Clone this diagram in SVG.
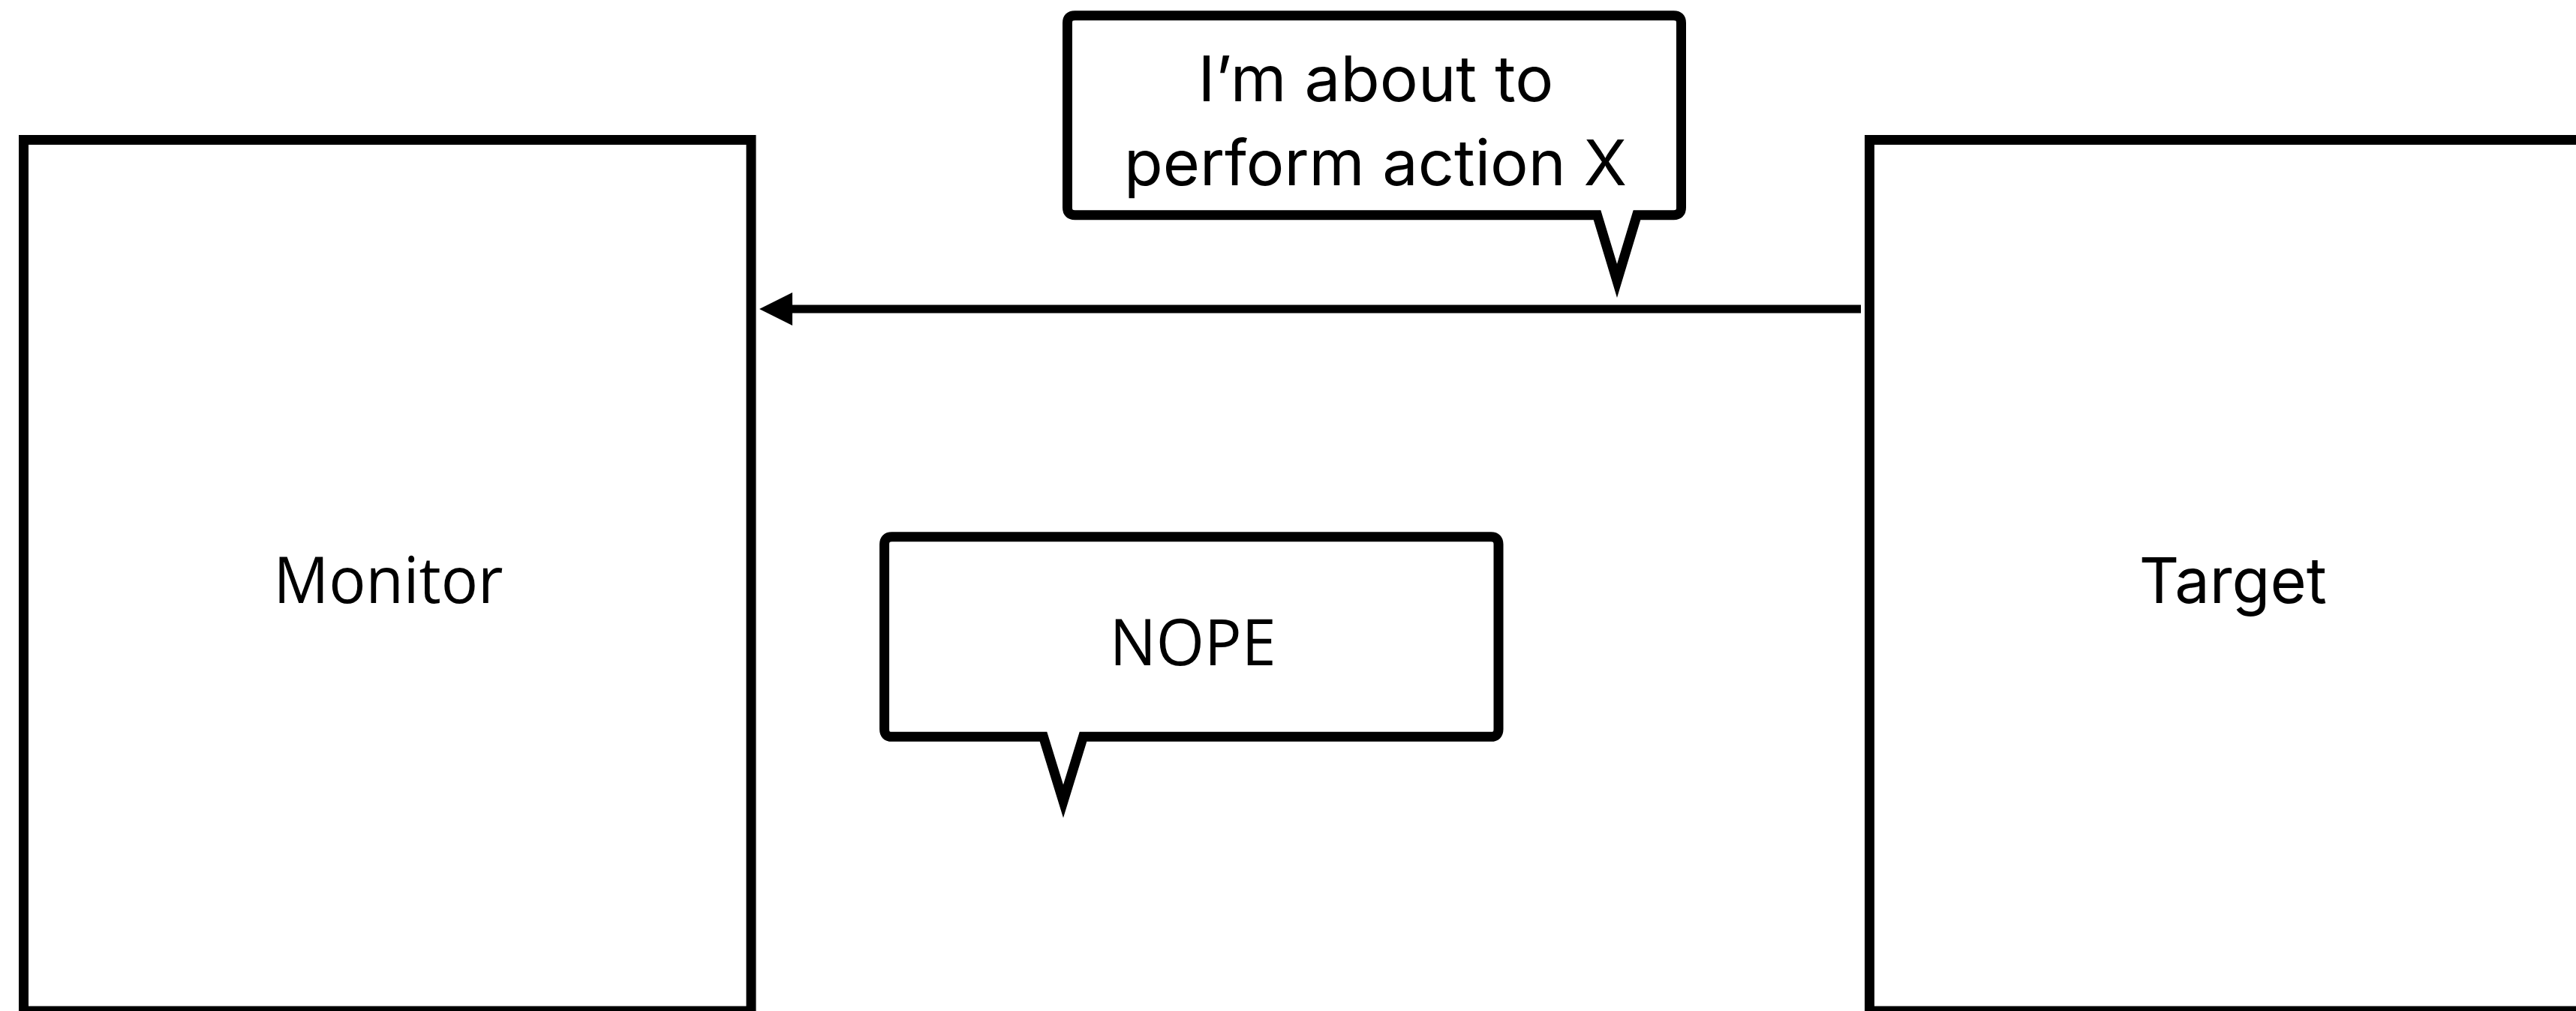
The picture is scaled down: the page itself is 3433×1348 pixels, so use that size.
<svg xmlns="http://www.w3.org/2000/svg" width="3433" height="1348" viewBox="0 0 3433 1348">
  <style>
    .box { fill: #ffffff; stroke: #000000; stroke-width: 13; }
    .bubble { fill: #ffffff; stroke: #000000; stroke-width: 13; stroke-linejoin: miter; stroke-miterlimit: 10; }
    .edge { stroke: #000000; stroke-width: 11; fill: none; }
    .lbl { fill: #000000; text-anchor: middle; }
    .sans { font-family: "Open Sans", "Noto Sans", sans-serif; font-size: 86px; }
    .grot { font-family: Inter, "Liberation Sans", sans-serif; font-size: 84px; }
  </style>
  <defs>
    <marker id="arrow" markerUnits="userSpaceOnUse" markerWidth="50" markerHeight="50" refX="0" refY="22" orient="auto-start-reverse" viewBox="0 0 44 44">
      <path d="M0 22 L44 0 L44 44 Z" fill="#000000"/>
    </marker>
  </defs>
  <rect x="0" y="0" width="3433" height="1348" fill="#ffffff"/>

  <g id="monitor">
    <rect class="box" x="31.5" y="186.5" width="969.5" height="1161.5"/>
    <text class="lbl sans" x="517.5" y="804" textLength="306" lengthAdjust="spacingAndGlyphs">Monitor</text>
  </g>

  <g id="target">
    <rect class="box" x="2491.5" y="186.5" width="1000" height="1161.5"/>
    <text class="lbl grot" x="2975.8" y="804" textLength="250" lengthAdjust="spacingAndGlyphs">Target</text>
  </g>

  <g id="connectors">
    <line class="edge" x1="2480" y1="412" x2="1056" y2="412"/>
    <path d="M1012 412 L1056 390 L1056 434 Z" fill="#000000"/>
  </g>

  <g id="bubble-action">
    <path class="bubble" d="M1432.5 20.7 H2230.5 Q2240.5 20.7 2240.5 30.7 V276.7 Q2240.5 286.7 2230.5 286.7 H2181.5 L2155 374.5 L2128.5 286.7 H1432.5 Q1422.5 286.7 1422.5 276.7 V30.7 Q1422.5 20.7 1432.5 20.7 Z"/>
    <text class="lbl grot" x="1833.5" y="135" textLength="474" lengthAdjust="spacingAndGlyphs">I’m about to</text>
    <text class="lbl grot" x="1833" y="246.7" textLength="670" lengthAdjust="spacingAndGlyphs">perform action X</text>
  </g>

  <g id="bubble-nope">
    <path class="bubble" d="M1188.6 715.8 H1987 Q1997 715.8 1997 725.8 V972.3 Q1997 982.3 1987 982.3 H1443.5 L1417 1068.5 L1390.5 982.3 H1188.6 Q1178.6 982.3 1178.6 972.3 V725.8 Q1178.6 715.8 1188.6 715.8 Z"/>
    <text class="lbl sans" x="1589.7" y="886.7" textLength="222" lengthAdjust="spacingAndGlyphs">NOPE</text>
  </g>
</svg>
